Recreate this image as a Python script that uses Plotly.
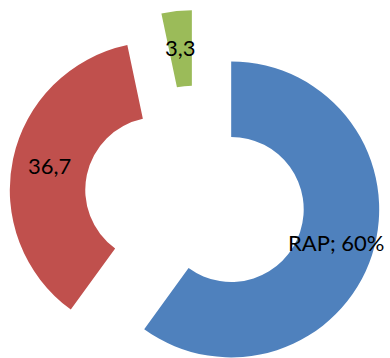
import math
import plotly.graph_objects as go

# data
labels = ["RAP", "B", "C"]
values = [60, 36.7, 3.3]
label_texts = ["RAP; 60%", "36,7", "3,3"]
colors = ["#4F81BD", "#C0504D", "#9BBB59"]
pulls = [0.25, 0.264, 0.27]   # explode, fraction of radius

W, H = 390, 358
R = 148.0          # outer radius px
HOLE = 0.49
C = (196.0, 198.0)  # base pie centre px

total = sum(values)
fig = go.Figure()
annotations = []
start = 0.0
for i, v in enumerate(values):
    span = 360.0 * v / total
    mid = math.radians(start + span / 2)
    dx, dy = math.sin(mid), -math.cos(mid)
    cx = C[0] + pulls[i] * R * dx
    cy = C[1] + pulls[i] * R * dy
    cols = [colors[j] if j == i else "rgba(0,0,0,0)" for j in range(len(values))]
    fig.add_trace(go.Pie(
        labels=labels, values=values, sort=False, direction="clockwise",
        rotation=0, hole=HOLE, textinfo="none", hoverinfo="skip",
        marker=dict(colors=cols, line=dict(width=0)),
        domain=dict(x=[(cx - R) / W, (cx + R) / W],
                    y=[max(0, 1 - (cy + R) / H), min(1, 1 - (cy - R) / H)]),
        showlegend=False,
    ))
    rm = R * (1 + HOLE) / 2
    tx, ty = cx + rm * dx, cy + rm * dy - 1
    annotations.append(dict(x=tx / W, y=1 - ty / H, xref="paper", yref="paper",
                            text=label_texts[i], showarrow=False,
                            font=dict(family="Lato", size=22, color="#000000"),
                            xanchor="center", yanchor="middle"))
    start += span

fig.update_layout(width=W, height=H, margin=dict(l=0, r=0, t=0, b=0),
                  paper_bgcolor="white", plot_bgcolor="white",
                  annotations=annotations, showlegend=False)
fig.write_html("out.html", config={"displayModeBar": False},
               post_script="document.body.style.margin='0';document.body.style.overflow='hidden';")
